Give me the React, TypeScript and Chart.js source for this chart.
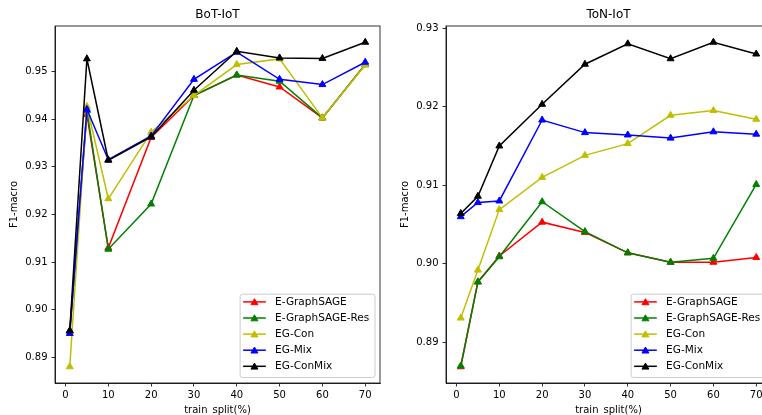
import React, { useEffect, useRef } from "react";
import { Chart, registerables } from "chart.js";

Chart.register(...registerables);

const FONT = "'DejaVu Sans', sans-serif";

// ---- data ----
const trainSplits = [1, 5, 10, 20, 30, 40, 50, 60, 70];
const xTicks = [0, 10, 20, 30, 40, 50, 60, 70];
const seriesNames = ["E-GraphSAGE", "E-GraphSAGE-Res", "EG-Con", "EG-Mix", "EG-ConMix"];
const seriesColors = ["#ff0000", "#008000", "#bfbf00", "#0000ff", "#000000"];

// BoT-IoT
const botGraphSage = [0.8955, 0.941, 0.913, 0.9362, 0.945, 0.9493, 0.9468, 0.9403, 0.9515];
const botGraphSageRes = [0.8955, 0.9418, 0.9127, 0.9222, 0.945, 0.9493, 0.948, 0.9403, 0.9515];
const botEgCon = [0.888, 0.9427, 0.9233, 0.9373, 0.945, 0.9515, 0.9527, 0.9403, 0.9514];
const botEgMix = [0.895, 0.9421, 0.9315, 0.9365, 0.9484, 0.9541, 0.9484, 0.9473, 0.952];
const botEgConMix = [0.8956, 0.9527, 0.9314, 0.9363, 0.9461, 0.9543, 0.9529, 0.9528, 0.9562];
const botYTicks = [0.89, 0.9, 0.91, 0.92, 0.93, 0.94, 0.95];

// ToN-IoT
const tonGraphSage = [0.8869, 0.8977, 0.901, 0.9053, 0.904, 0.9014, 0.9002, 0.9002, 0.9008];
const tonGraphSageRes = [0.887, 0.8977, 0.9009, 0.9079, 0.9041, 0.9014, 0.9002, 0.9007, 0.9101];
const tonEgCon = [0.8931, 0.8992, 0.9069, 0.911, 0.9138, 0.9153, 0.9189, 0.9195, 0.9184];
const tonEgMix = [0.906, 0.9078, 0.908, 0.9183, 0.9167, 0.9164, 0.916, 0.9168, 0.9165];
const tonEgConMix = [0.9064, 0.9086, 0.915, 0.9203, 0.9254, 0.928, 0.9261, 0.9282, 0.9267];
const tonYTicks = [0.89, 0.9, 0.91, 0.92, 0.93];

const xLabel = "train_split(%)";
const yLabel = "F1-macro";

// ---- plugin: full frame + in-plot legend (matplotlib style) ----
const frameLegendPlugin = {
  id: "frameLegend",
  afterDatasetsDraw(chart: any) {
    const { ctx, chartArea: a } = chart;
    ctx.save();
    ctx.strokeStyle = "#000";
    ctx.lineWidth = 0.8;
    ctx.strokeRect(a.left, a.top, a.right - a.left, a.bottom - a.top);

    ctx.font = `10.5px ${FONT}`;
    const items = chart.data.datasets.map((d: any) => ({ label: d.label, color: d.borderColor }));
    const maxW = Math.max(...items.map((i: any) => ctx.measureText(i.label).width));
    const w = 35 + maxW + 5.7;
    const h = 83.3;
    const x0 = a.right - 5 - w;
    const y0 = a.bottom - 5.5 - h;
    ctx.beginPath();
    ctx.roundRect(x0, y0, w, h, 2.5);
    ctx.fillStyle = "rgba(255,255,255,0.8)";
    ctx.fill();
    ctx.strokeStyle = "#cccccc";
    ctx.lineWidth = 1;
    ctx.stroke();
    items.forEach((it: any, i: number) => {
      const cy = y0 + 7.7 + i * 16.1;
      ctx.strokeStyle = it.color;
      ctx.lineWidth = 1.5;
      ctx.beginPath();
      ctx.moveTo(x0 + 3, cy);
      ctx.lineTo(x0 + 25.7, cy);
      ctx.stroke();
      const mx = x0 + 14.35;
      const r = 4;
      ctx.beginPath();
      for (let k = 0; k < 3; k++) {
        const ang = (k * 2 * Math.PI) / 3;
        const px = mx + Math.sin(ang) * r;
        const py = cy - Math.cos(ang) * r + 0.8;
        if (k === 0) ctx.moveTo(px, py);
        else ctx.lineTo(px, py);
      }
      ctx.closePath();
      ctx.fillStyle = it.color;
      ctx.fill();
      ctx.lineWidth = 1;
      ctx.stroke();
      ctx.fillStyle = "#000";
      ctx.textBaseline = "middle";
      ctx.textAlign = "left";
      ctx.fillText(it.label, x0 + 35, cy);
    });
    ctx.restore();
  },
};

function buildConfig(title: string, series: number[][], yTicks: number[]) {
  const all = series.flat();
  const lo = Math.min(...all);
  const hi = Math.max(...all);
  const yPad = (hi - lo) * 0.05;
  const xLo = Math.min(...trainSplits);
  const xHi = Math.max(...trainSplits);
  const xPad = (xHi - xLo) * 0.05;
  return {
    type: "line" as const,
    data: {
      datasets: series.map((vals, i) => ({
        label: seriesNames[i],
        data: trainSplits.map((x, j) => ({ x, y: vals[j] })),
        borderColor: seriesColors[i],
        backgroundColor: seriesColors[i],
        pointBackgroundColor: seriesColors[i],
        pointBorderColor: seriesColors[i],
        borderWidth: 1.5,
        pointStyle: "triangle",
        pointRadius: 4,
        pointBorderWidth: 1,
        tension: 0,
        fill: false,
        order: seriesNames.length - i,
      })),
    },
    options: {
      responsive: false,
      animation: false as const,
      devicePixelRatio: window.devicePixelRatio || 1,
      layout: { padding: { left: 0, right: 10, top: 0, bottom: 1 } },
      plugins: {
        legend: { display: false },
        tooltip: { enabled: false },
        title: {
          display: true,
          text: title,
          fullSize: false,
          color: "#000",
          font: { family: FONT, size: 12, weight: "normal" as const },
          padding: { top: 8, bottom: 3.6 },
        },
      },
      scales: {
        x: {
          type: "linear" as const,
          min: xLo - xPad,
          max: xHi + xPad,
          afterBuildTicks: (s: any) => {
            s.ticks = xTicks.map((v) => ({ value: v }));
          },
          afterFit: (s: any) => {
            s.height = 33;
          },
          grid: { display: true, drawOnChartArea: false, drawTicks: true, tickLength: 3.5, color: "#000", lineWidth: 0.8 },
          border: { display: true, color: "#000", width: 0.8 },
          ticks: {
            autoSkip: false,
            maxRotation: 0,
            padding: 3,
            color: "#000",
            font: { family: FONT, size: 10 },
            callback: (v: any) => String(v),
          },
          title: {
            display: true,
            text: xLabel,
            color: "#000",
            font: { family: FONT, size: 10 },
            padding: { top: 0, bottom: 0 },
          },
        },
        y: {
          type: "linear" as const,
          min: lo - yPad,
          max: hi + yPad,
          afterBuildTicks: (s: any) => {
            s.ticks = yTicks.map((v) => ({ value: v }));
          },
          afterFit: (s: any) => {
            s.width = 55;
          },
          grid: { display: true, drawOnChartArea: false, drawTicks: true, tickLength: 3.5, color: "#000", lineWidth: 0.8 },
          border: { display: true, color: "#000", width: 0.8 },
          ticks: {
            autoSkip: false,
            padding: 4,
            color: "#000",
            font: { family: FONT, size: 10 },
            callback: (v: any) => Number(v).toFixed(2),
          },
          title: {
            display: true,
            text: yLabel,
            color: "#000",
            font: { family: FONT, size: 10 },
            padding: { top: 8, bottom: 0 },
          },
        },
      },
    },
    plugins: [frameLegendPlugin],
  };
}

function Panel(props: { title: string; series: number[][]; yTicks: number[]; left: number }) {
  const ref = useRef<HTMLCanvasElement | null>(null);
  useEffect(() => {
    if (!ref.current) return;
    const chart = new Chart(ref.current, buildConfig(props.title, props.series, props.yTicks) as any);
    return () => chart.destroy();
  }, []);
  return (
    <canvas
      ref={ref}
      width={390}
      height={417}
      style={{ position: "absolute", left: props.left, top: 0, width: 390, height: 417 }}
    />
  );
}

export default function App() {
  return (
    <div
      style={{
        position: "fixed",
        left: 0,
        top: 0,
        width: 762,
        height: 415,
        overflow: "hidden",
        background: "#fff",
      }}
    >
      <Panel
        title="BoT-IoT"
        series={[botGraphSage, botGraphSageRes, botEgCon, botEgMix, botEgConMix]}
        yTicks={botYTicks}
        left={0}
      />
      <Panel
        title="ToN-IoT"
        series={[tonGraphSage, tonGraphSageRes, tonEgCon, tonEgMix, tonEgConMix]}
        yTicks={tonYTicks}
        left={391}
      />
    </div>
  );
}
